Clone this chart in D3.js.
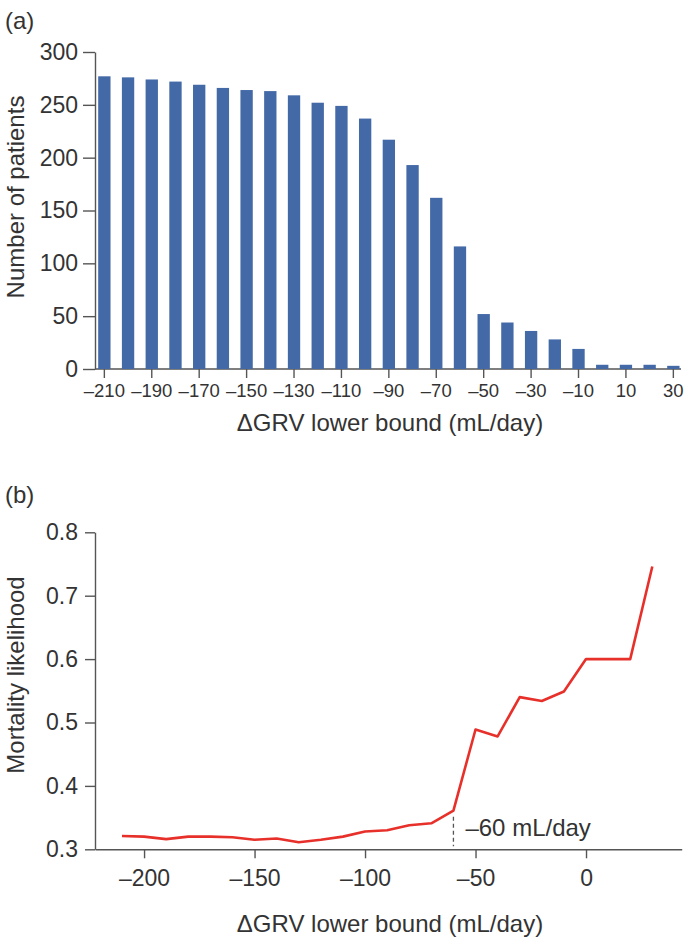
<!DOCTYPE html>
<html>
<head>
<meta charset="utf-8">
<script src="https://cdn.jsdelivr.net/npm/d3@7"></script>
<style>
	body { margin: 0; background: #fff; }
	svg { display: block; font-family: "Liberation Sans", Arial, sans-serif; }
	.axis path, .axis line { stroke: #555; stroke-width: 1.4; }
	.axis text { fill: #333; }
</style>
</head>
<body>
<div id="viz"></div>
<script>

// panel (a): number of patients for each lower bound
var boundsA = [-210, -200, -190, -180, -170, -160, -150, -140, -130, -120, -110, -100, -90,
	-80, -70, -60, -50, -40, -30, -20, -10, 0, 10, 20, 30];
var patients = [277, 276, 274, 272, 269, 266, 264, 263, 259, 252, 249, 237, 217,
	193, 162, 116, 52, 44, 36, 28, 19, 4, 4, 4, 3];
var ticksA_x = [-210, -190, -170, -150, -130, -110, -90, -70, -50, -30, -10, 10, 30];
var ticksA_y = [0, 50, 100, 150, 200, 250, 300];

// panel (b): mortality likelihood
var boundsB = [-210, -200, -190, -180, -170, -160, -150, -140, -130, -120, -110, -100, -90,
	-80, -70, -60, -50, -40, -30, -20, -10, 0, 10, 20, 30];
var mortality = [0.321, 0.320, 0.316, 0.320, 0.320, 0.319, 0.315, 0.317, 0.311, 0.315, 0.320, 0.328, 0.330,
	0.338, 0.341, 0.361, 0.489, 0.478, 0.540, 0.534, 0.549, 0.600, 0.600, 0.600, 0.746];
var ticksB_x = [-200, -150, -100, -50, 0];
var ticksB_y = [0.3, 0.4, 0.5, 0.6, 0.7, 0.8];
var cutoff = -60;

var dashFmt = function(d) { return d < 0 ? '\u2013' + (-d) : d; };

var svg = d3.select('#viz')
	.append('svg')
		.attr('width', 685)
		.attr('height', 944);

// ---------- (a) ----------
var xa = d3.scaleBand()
	.domain(boundsA)
	.range([92.5, 685.2])
	.paddingInner(0.48)
	.paddingOuter(0.24);
var ya = d3.scaleLinear().domain([0, 300]).range([369, 52]);

svg.append('g')
	.attr('class', 'axis')
	.attr('transform', 'translate(95,0)')
	.call(d3.axisLeft(ya).tickValues(ticksA_y).tickSize(12).tickSizeOuter(0).tickPadding(5))
	.selectAll('text').style('font-size', '23px');

svg.append('line')
	.attr('x1', 95).attr('x2', 681)
	.attr('y1', ya(0)).attr('y2', ya(0))
	.style('stroke', '#555').style('stroke-width', 1.4);

var gxa = svg.append('g')
	.attr('class', 'axis')
	.attr('transform', 'translate(0,' + ya(0) + ')')
	.call(d3.axisBottom(xa).tickValues(ticksA_x).tickSize(9).tickPadding(6).tickFormat(dashFmt));
gxa.select('.domain').remove();
gxa.selectAll('text').style('font-size', '18.5px');

svg.append('g')
	.selectAll('rect')
	.data(patients)
	.enter().append('rect')
		.attr('x', function(d, i) { return xa(boundsA[i]); })
		.attr('width', xa.bandwidth())
		.attr('y', function(d) { return ya(d); })
		.attr('height', function(d) { return ya(0) - ya(d); })
		.style('fill', '#4369a6');

svg.append('text')
	.attr('x', 390).attr('y', 431)
	.attr('text-anchor', 'middle')
	.style('font-size', '24px').style('fill', '#333')
	.text('\u0394GRV lower bound (mL/day)');

svg.append('text')
	.attr('transform', 'translate(24,197) rotate(-90)')
	.attr('text-anchor', 'middle')
	.style('font-size', '24px').style('fill', '#333')
	.text('Number of patients');

svg.append('text')
	.attr('x', 5).attr('y', 29)
	.style('font-size', '24px').style('fill', '#333')
	.text('(a)');

// ---------- (b) ----------
var xb = d3.scaleLinear().domain([-222.2, 43.3]).range([95, 681.7]);
var yb = d3.scaleLinear().domain([0.3, 0.8]).range([849.3, 532.3]);

svg.append('g')
	.attr('class', 'axis')
	.attr('transform', 'translate(95,0)')
	.call(d3.axisLeft(yb).tickValues(ticksB_y).tickSize(10).tickSizeOuter(0).tickPadding(7)
		.tickFormat(d3.format('.1f')))
	.selectAll('text').style('font-size', '23px');

svg.append('g')
	.attr('class', 'axis')
	.attr('transform', 'translate(0,' + yb(0.3) + ')')
	.call(d3.axisBottom(xb).tickValues(ticksB_x).tickSize(9).tickSizeOuter(0).tickPadding(11)
		.tickFormat(dashFmt))
	.selectAll('text').style('font-size', '23px');

svg.append('line')
	.attr('x1', xb(cutoff)).attr('x2', xb(cutoff))
	.attr('y1', yb(mortality[boundsB.indexOf(cutoff)]) + 6)
	.attr('y2', yb(0.3) - 3)
	.style('stroke', '#555').style('stroke-width', 1.3)
	.style('stroke-dasharray', '4,3');

var line = d3.line()
	.x(function(d, i) { return xb(boundsB[i]); })
	.y(function(d) { return yb(d); });

svg.append('path')
	.datum(mortality)
	.attr('d', line)
	.style('fill', 'none')
	.style('stroke', '#e8302a')
	.style('stroke-width', 2.6)
	.style('stroke-linejoin', 'round');

svg.append('text')
	.attr('x', xb(cutoff) + 12).attr('y', 836)
	.style('font-size', '24px').style('fill', '#333')
	.text('\u201360 mL/day');

svg.append('text')
	.attr('x', 390).attr('y', 932)
	.attr('text-anchor', 'middle')
	.style('font-size', '24px').style('fill', '#333')
	.text('\u0394GRV lower bound (mL/day)');

svg.append('text')
	.attr('transform', 'translate(24,675) rotate(-90)')
	.attr('text-anchor', 'middle')
	.style('font-size', '24px').style('fill', '#333')
	.text('Mortality likelihood');

svg.append('text')
	.attr('x', 5).attr('y', 503)
	.style('font-size', '24px').style('fill', '#333')
	.text('(b)');

</script>
</body>
</html>
